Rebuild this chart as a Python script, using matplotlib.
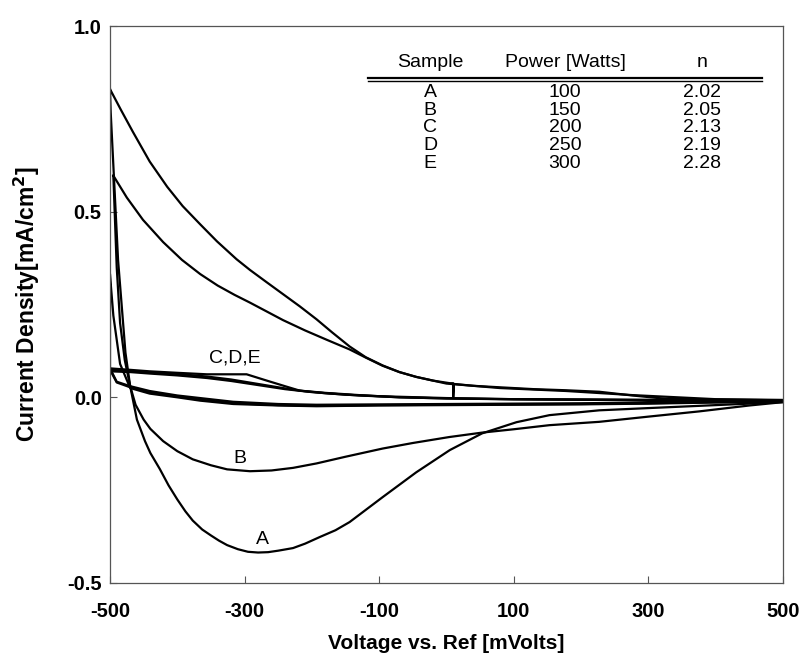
import numpy as np
import matplotlib
matplotlib.use("Agg")
from matplotlib import pyplot as plt

plt.rcParams['font.family'] = ['Liberation Sans', 'DejaVu Sans']

# Sample A: forward branch then return branch (mV, mA/cm2)
vA_fwd = [-500, -484, -466, -441, -415, -392, -366, -341, -312, -292, -268, -243, -218, -193,
          -170, -144, -120, -95, -70, -45, -20, 5, 10, 10, 11, 40, 79, 130, 178, 227, 276, 326, 400, 500]
jA_fwd = [0.83, 0.775, 0.715, 0.635, 0.567, 0.515, 0.466, 0.42, 0.372, 0.343, 0.311, 0.278, 0.245, 0.21,
          0.175, 0.137, 0.108, 0.086, 0.068, 0.055, 0.045, 0.038, 0.038, 0.0, 0.036, 0.031, 0.027, 0.022, 0.019, 0.015, 0.005, -0.004, -0.006, -0.008]
vA_ret = [500, 450, 375, 300, 227, 153, 104, 53, 5, -45, -95, -144, -165, -188, -210, -228, -250, -265,
          -280, -295, -310, -326, -338, -350, -363, -377, -388, -400, -413, -426, -440, -448, -460,
          -470, -477, -488, -499, -500]
jA_ret = [-0.013, -0.017, -0.023, -0.029, -0.035, -0.048, -0.067, -0.097, -0.142, -0.202, -0.269, -0.336,
          -0.358, -0.376, -0.394, -0.406, -0.413, -0.417, -0.418, -0.416, -0.409, -0.398, -0.386, -0.372,
          -0.356, -0.332, -0.307, -0.275, -0.237, -0.193, -0.15, -0.118, -0.06, 0.03, 0.12, 0.37, 0.77, 0.83]

# Sample B
vB_fwd = [-495, -475, -451, -421, -393, -366, -340, -315, -292, -268, -243, -210, -178, -144, -120, -95,
          -70, -45, 0, 79, 178, 276, 400, 500]
jB_fwd = [0.597, 0.538, 0.478, 0.418, 0.37, 0.332, 0.301, 0.276, 0.255, 0.232, 0.208, 0.18, 0.155, 0.129, 0.107, 0.085,
          0.068, 0.055, 0.037, 0.025, 0.017, 0.006, -0.005, -0.007]
vB_ret = [500, 450, 375, 300, 227, 153, 100, 53, 4, -50, -95, -150, -193, -228, -260, -292, -326, -350,
          -377, -400, -421, -440, -450, -462, -470, -478, -485, -490, -495]
jB_ret = [-0.013, -0.022, -0.038, -0.052, -0.066, -0.075, -0.086, -0.095, -0.107, -0.123, -0.138, -0.16, -0.178,
          -0.19, -0.197, -0.199, -0.194, -0.183, -0.167, -0.145, -0.118, -0.085, -0.06, -0.02, 0.03, 0.1, 0.2, 0.35, 0.597]

# Samples C, D, E (small loops)
vC_fwd = [-500, -470, -441, -400, -356, -297, -267, -240, -218, -180, -130, -70, 0, 79, 150, 227, 300, 400, 500]
jC_fwd = [0.078, 0.074, 0.07, 0.066, 0.062, 0.062, 0.045, 0.03, 0.018, 0.012, 0.006, 0.0, -0.003, -0.005,
          -0.006, -0.007, -0.008, -0.009, -0.009]
vC_ret = [500, 400, 300, 200, 100, 0, -100, -193, -250, -317, -366, -400, -441, -470, -490, -500]
jC_ret = [-0.01, -0.012, -0.014, -0.016, -0.017, -0.018, -0.019, -0.02, -0.018, -0.012, -0.002, 0.005, 0.017,
          0.03, 0.042, 0.078]

vD_fwd = [-500, -470, -441, -400, -356, -320, -280, -240, -218, -180, -130, -70, 0, 100, 200, 300, 400, 500]
jD_fwd = [0.074, 0.071, 0.067, 0.063, 0.056, 0.048, 0.036, 0.024, 0.018, 0.011, 0.005, 0.0, -0.003, -0.005,
          -0.006, -0.007, -0.008, -0.009]
vD_ret = [500, 400, 300, 200, 100, 0, -100, -193, -250, -317, -366, -400, -441, -470, -490, -500]
jD_ret = [-0.011, -0.013, -0.016, -0.018, -0.019, -0.02, -0.021, -0.023, -0.021, -0.016, -0.006, 0.002, 0.014,
          0.027, 0.04, 0.074]

vE_fwd = [-500, -500, -470, -441, -400, -356, -320, -280, -240, -200, -150, -100, 0, 100, 200, 300, 400, 500]
jE_fwd = [0.33, 0.07, 0.068, 0.064, 0.059, 0.052, 0.044, 0.033, 0.022, 0.014, 0.007, 0.003, -0.002, -0.005,
          -0.006, -0.007, -0.008, -0.009]
vE_ret = [500, 400, 300, 200, 100, 0, -100, -193, -250, -317, -366, -400, -441, -470, -485, -495, -500]
jE_ret = [-0.012, -0.014, -0.017, -0.019, -0.02, -0.021, -0.022, -0.024, -0.022, -0.018, -0.009, 0.0, 0.01,
          0.025, 0.09, 0.22, 0.33]

# Table
samples = ['A', 'B', 'C', 'D', 'E']
power = ['100', '150', '200', '250', '300']
n_vals = ['2.02', '2.05', '2.13', '2.19', '2.28']

x_ticks = [-500, -300, -100, 100, 300, 500]
y_ticks = [-0.5, 0.0, 0.5, 1.0]

fig = plt.figure(figsize=(8.04, 6.6), dpi=100)
ax = fig.add_axes([0.1368, 0.1167, 0.8371, 0.8439])

curves = [(vA_fwd + vA_ret, jA_fwd + jA_ret), (vB_fwd + vB_ret, jB_fwd + jB_ret),
          (vC_fwd + vC_ret, jC_fwd + jC_ret), (vD_fwd + vD_ret, jD_fwd + jD_ret),
          (vE_fwd + vE_ret, jE_fwd + jE_ret)]
for v, j in curves:
    ax.plot(v, j, color='black', lw=1.6, solid_joinstyle='round')

ax.set_xlim(-500, 500)
ax.set_ylim(-0.5, 1.0)
ax.set_xticks(x_ticks)
ax.set_yticks(y_ticks)
ax.set_xticklabels([str(t) for t in x_ticks])
ax.set_yticklabels(['%.1f' % t for t in y_ticks])
ax.tick_params(direction='in', length=5, width=0.8, colors='#555555', labelcolor='black',
               labelsize=14.5)
ax.tick_params(axis='x', pad=14)
ax.tick_params(axis='y', pad=6)
for lab in ax.get_xticklabels() + ax.get_yticklabels():
    lab.set_fontweight('bold')
for s in ax.spines.values():
    s.set_color('#555555')
    s.set_linewidth(0.9)

ax.set_xlabel('Voltage vs. Ref [mVolts]', fontsize=15, fontweight='bold', labelpad=9)
ax.set_ylabel('Current Density[mA/cm$^\\mathbf{2}$]', fontsize=16.5, fontweight='bold', labelpad=18)

# curve labels
ax.text(-315, 0.105, 'C,D,E', fontsize=14, ha='center', va='center')
ax.text(-307, -0.164, 'B', fontsize=14, ha='center', va='center')
ax.text(-274, -0.384, 'A', fontsize=14, ha='center', va='center')

# table
col_x = [0.4755, 0.676, 0.880]
tkw = dict(transform=ax.transAxes, fontsize=14, ha='center', va='center')
ax.text(col_x[0], 0.9336, 'Sample', **tkw)
ax.text(col_x[1], 0.9336, 'Power [Watts]', **tkw)
ax.text(col_x[2], 0.9336, 'n', **tkw)
ax.plot([0.383, 0.969], [0.9066, 0.9066], transform=ax.transAxes, color='black', lw=1.6)
ax.plot([0.383, 0.969], [0.9010, 0.9010], transform=ax.transAxes, color='black', lw=1.0)
row_y = [0.880, 0.848, 0.817, 0.785, 0.754]
for s, p, n, yy in zip(samples, power, n_vals, row_y):
    ax.text(col_x[0], yy, s, **tkw)
    ax.text(col_x[1], yy, p, **tkw)
    ax.text(col_x[2], yy, n, **tkw)

fig.savefig('out.png', dpi=100)
